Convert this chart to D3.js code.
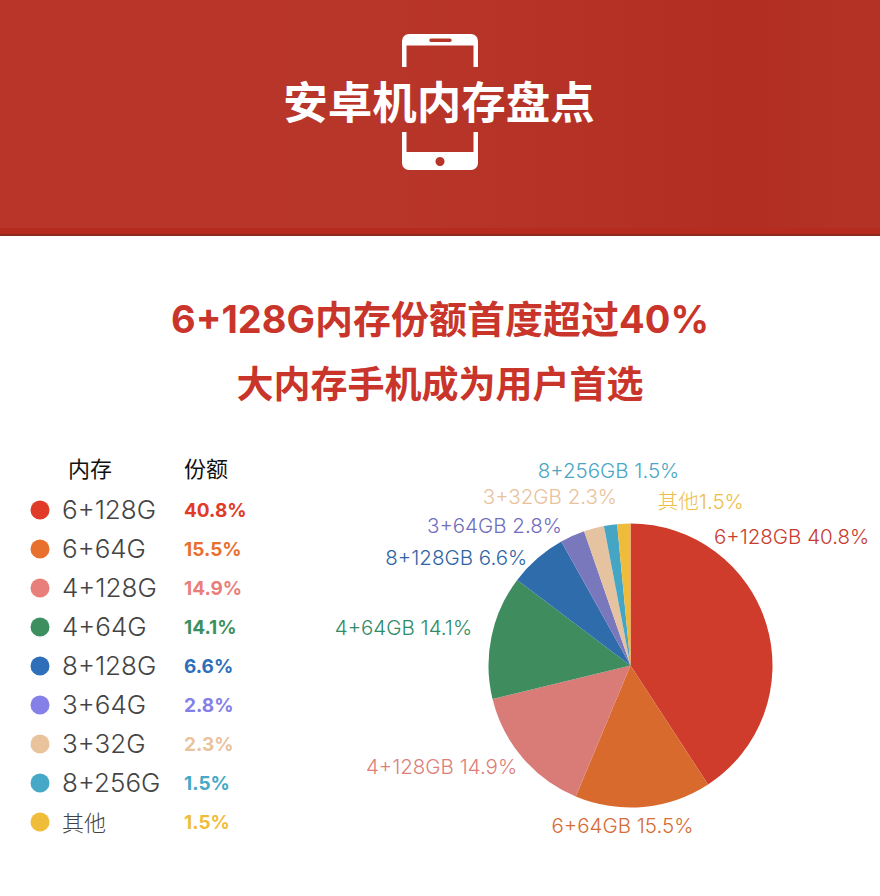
<!DOCTYPE html>
<html>
<head>
<meta charset="utf-8">
<script src="https://cdn.jsdelivr.net/npm/d3@7"></script>
<style>
  html, body { margin: 0; padding: 0; background: #fff; }
  text { font-family: "Inter", "Noto Sans CJK SC", sans-serif; }
</style>
</head>
<body>
<div id="chart"></div>
<script>
// 数据
const memory = ["6+128G", "6+64G", "4+128G", "4+64G", "8+128G", "3+64G", "3+32G", "8+256G", "其他"];
const share = [40.8, 15.5, 14.9, 14.1, 6.6, 2.8, 2.3, 1.5, 1.5];
const pieNames = ["6+128GB ", "6+64GB ", "4+128GB ", "4+64GB ", "8+128GB ", "3+64GB ", "3+32GB ", "8+256GB ", "其他"];

// 样式
const dotColors = ["#e03a28", "#e8702e", "#e97f7b", "#3d8f5f", "#2f6fb9", "#8480e8", "#e9c39c", "#45a8c6", "#f0bd3a"];
const sliceColors = ["#cf3c2b", "#d96a2d", "#d97c78", "#3f8c5f", "#2f6cac", "#7a78bd", "#e6c3a0", "#45a5c4", "#eebb3c"];
const textColors = ["#c63c30", "#d56c34", "#dd7f7a", "#2f8a66", "#2f64a4", "#716ebd", "#e9c29c", "#4aa6c4", "#eebd48"];
// 饼图标签相对扇区外缘中点的偏移
const labelNudge = [[25, -88], [-21, 19], [-81, 9], [-88, -9], [-81, 0], [-78, -10], [-44, -31], [-2, -54], [77, -22]];

const width = 880, height = 896;
const svg = d3.select("#chart").append("svg")
    .attr("width", width)
    .attr("height", height)
    .style("display", "block");

// 顶部红色横幅
const defs = svg.append("defs");
const grad = defs.append("linearGradient").attr("id", "banner");
grad.append("stop").attr("offset", "0%").attr("stop-color", "#b9352a");
grad.append("stop").attr("offset", "45%").attr("stop-color", "#b83529");
grad.append("stop").attr("offset", "85%").attr("stop-color", "#b22e22");
grad.append("stop").attr("offset", "100%").attr("stop-color", "#b33226");
svg.append("rect").attr("width", width).attr("height", 235).attr("fill", "url(#banner)");
svg.append("rect").attr("y", 228).attr("width", width).attr("height", 6).attr("fill", "#b52b1e");
svg.append("rect").attr("y", 234).attr("width", width).attr("height", 2).attr("fill", "#8f2a20");

// 手机图标
const phone = svg.append("g").attr("fill", "#fff");
phone.append("path").attr("fill-rule", "evenodd")
    .attr("d", "M402 67V41a7 7 0 0 1 7-7H471a7 7 0 0 1 7 7V67H473.500V45.500H406.500V67Z M431 38.500H450a1.700 1.700 0 0 1 0 3.400H431a1.700 1.700 0 0 1 0-3.400Z");
phone.append("path").attr("fill-rule", "evenodd")
    .attr("d", "M402 132H406.500V152H473.500V132H478V163a7 7 0 0 1-7 7H409a7 7 0 0 1-7-7Z M440 157a4.500 4.500 0 1 0 0.010 0Z");

svg.append("text")
    .attr("x", 439).attr("y", 119)
    .attr("text-anchor", "middle")
    .attr("fill", "#fff")
    .attr("font-size", 44.500)
    .attr("font-weight", 700)
    .text("安卓机内存盘点");

// 副标题
svg.append("text")
    .attr("x", 440).attr("y", 333)
    .attr("text-anchor", "middle")
    .attr("fill", "#c9352a")
    .attr("font-size", 38)
    .attr("font-weight", 700)
    .text("6+128G内存份额首度超过40%");
svg.append("text")
    .attr("x", 440).attr("y", 398)
    .attr("text-anchor", "middle")
    .attr("fill", "#c9352a")
    .attr("font-size", 37)
    .attr("font-weight", 700)
    .text("大内存手机成为用户首选");

// 左侧图例表
svg.append("text").attr("x", 68).attr("y", 477)
    .attr("font-size", 22).attr("fill", "#111").text("内存");
svg.append("text").attr("x", 184).attr("y", 477)
    .attr("font-size", 22).attr("fill", "#111").text("份额");

const rowY = d3.scalePoint()
    .domain(memory)
    .range([510, 822]);

const rows = svg.selectAll(".row")
    .data(memory)
    .enter().append("g")
    .attr("class", "row")
    .attr("transform", d => `translate(0, ${rowY(d)})`);

rows.append("circle")
    .attr("cx", 40)
    .attr("r", 9.500)
    .attr("fill", (d, i) => dotColors[i]);

rows.append("text")
    .attr("x", 62)
    .attr("y", 9)
    .attr("font-size", d => d === "其他" ? 22 : 26)
    .attr("font-weight", 300)
    .attr("fill", "#444")
    .text(d => d);

rows.append("text")
    .attr("x", 184)
    .attr("y", 7)
    .attr("font-size", 19)
    .attr("font-weight", 700)
    .attr("fill", (d, i) => dotColors[i])
    .text((d, i) => share[i].toFixed(1) + "%");

// 饼图
const cx = 630.5, cy = 665.5, radius = 142;
const pie = d3.pie().sort(null)(share);
const arc = d3.arc().innerRadius(0).outerRadius(radius);
const rim = d3.arc().innerRadius(radius).outerRadius(radius);

const chart = svg.append("g").attr("transform", `translate(${cx}, ${cy})`);

chart.selectAll(".slice")
    .data(pie)
    .enter().append("path")
    .attr("class", "slice")
    .attr("d", arc)
    .attr("fill", (d, i) => sliceColors[i]);

chart.selectAll(".label")
    .data(pie)
    .enter().append("text")
    .attr("class", "label")
    .attr("x", (d, i) => rim.centroid(d)[0] + labelNudge[i][0])
    .attr("y", (d, i) => rim.centroid(d)[1] + labelNudge[i][1] + 7)
    .attr("text-anchor", "middle")
    .attr("font-size", 20.500)
    .attr("font-weight", 300)
    .attr("fill", (d, i) => textColors[i])
    .text((d, i) => pieNames[i] + share[i].toFixed(1) + "%");
</script>
</body>
</html>
